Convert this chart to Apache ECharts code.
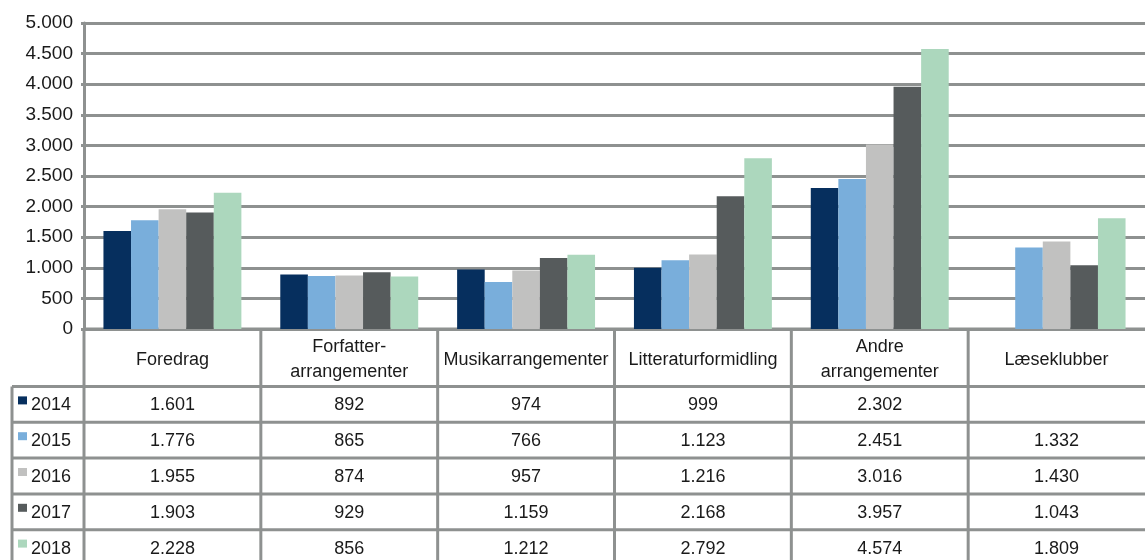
<!DOCTYPE html>
<html>
<head>
<meta charset="utf-8">
<script src="https://cdn.jsdelivr.net/npm/echarts@6/dist/echarts.min.js"></script>
<style>
  html, body { margin: 0; padding: 0; background: #fff; }
  #main { width: 1145px; height: 560px; }
</style>
</head>
<body>
<div id="main"></div>
<script>
// data
const categories = ['Foredrag', 'Forfatter-\narrangementer', 'Musikarrangementer', 'Litteraturformidling', 'Andre\narrangementer', 'Læseklubber'];
const years = ['2014', '2015', '2016', '2017', '2018'];
const v2014 = [1601, 892, 974, 999, 2302, null];
const v2015 = [1776, 865, 766, 1123, 2451, 1332];
const v2016 = [1955, 874, 957, 1216, 3016, 1430];
const v2017 = [1903, 929, 1159, 2168, 3957, 1043];
const v2018 = [2228, 856, 1212, 2792, 4574, 1809];
const yMin = 0, yMax = 5000, yStep = 500;

const values = [v2014, v2015, v2016, v2017, v2018];
const colors = ['#062f5e', '#79aedb', '#c1c1c0', '#565b5c', '#acd7bd'];
const lineColor = '#8e9190';
const font = '"Liberation Sans", Arial, sans-serif';

// danish thousands separator
const fmt = v => v == null ? '' : String(v).replace(/\B(?=(\d{3})+(?!\d))/g, '.');

const chart = echarts.init(document.getElementById('main'));

chart.setOption({
  animation: false,
  grid: { left: 84, right: -8, top: 23, bottom: 231, containLabel: false },
  xAxis: {
    type: 'category',
    data: categories,
    axisLine: { show: true, lineStyle: { color: lineColor, width: 3 } },
    axisTick: { show: false },
    axisLabel: { show: false },
    splitLine: { show: false }
  },
  yAxis: {
    type: 'value',
    min: yMin,
    max: yMax,
    interval: yStep,
    axisLine: { show: true, lineStyle: { color: lineColor, width: 3 } },
    axisTick: { show: true, length: 3, lineStyle: { color: lineColor, width: 3 } },
    axisLabel: {
      color: '#1a1a1a',
      fontFamily: font,
      fontSize: 19,
      margin: 11,
      formatter: v => fmt(v)
    },
    splitLine: { show: true, lineStyle: { color: lineColor, width: 3 } }
  },
  series: years.map((y, i) => ({
    name: y,
    type: 'bar',
    data: values[i],
    itemStyle: { color: colors[i] },
    barGap: 0,
    barCategoryGap: '22%'
  }))
});

// data table below the plot
const tableTop = 329, headTop = 386.5, rowH = 35.8, keyLeft = 12, W = 1145, H = 560;
const axisX = 84;
const px = i => chart.convertToPixel({ xAxisIndex: 0 }, i);
const band = px(1) - px(0);
const g = [];
const line = (x1, y1, x2, y2) => g.push({
  type: 'line', silent: true,
  shape: { x1, y1, x2, y2 },
  style: { stroke: lineColor, lineWidth: 3 }
});
const text = (x, y, s, align) => g.push({
  type: 'text', silent: true, x, y,
  style: {
    text: s, fill: '#1a1a1a', font: '18px ' + font,
    align: align || 'center', verticalAlign: 'middle', lineHeight: 25
  }
});

line(axisX, tableTop, W, tableTop);
for (let r = 0; r <= years.length; r++) line(keyLeft, headTop + r * rowH, W, headTop + r * rowH);
line(keyLeft, headTop, keyLeft, H);
line(axisX, tableTop, axisX, H);
categories.forEach((c, i) => {
  const cx = px(i);
  if (i > 0) line(cx - band / 2, tableTop, cx - band / 2, H);
  text(cx, (tableTop + headTop) / 2 + 2, c);
  values.forEach((arr, r) => text(cx, headTop + r * rowH + rowH / 2 + 1, fmt(arr[i])));
});
years.forEach((y, r) => {
  const cy = headTop + r * rowH + rowH / 2;
  g.push({ type: 'rect', silent: true, shape: { x: 18, y: cy - 8, width: 9, height: 8 }, style: { fill: colors[r] } });
  text(31, cy + 1, y, 'left');
});

chart.setOption({ graphic: g });
</script>
</body>
</html>
